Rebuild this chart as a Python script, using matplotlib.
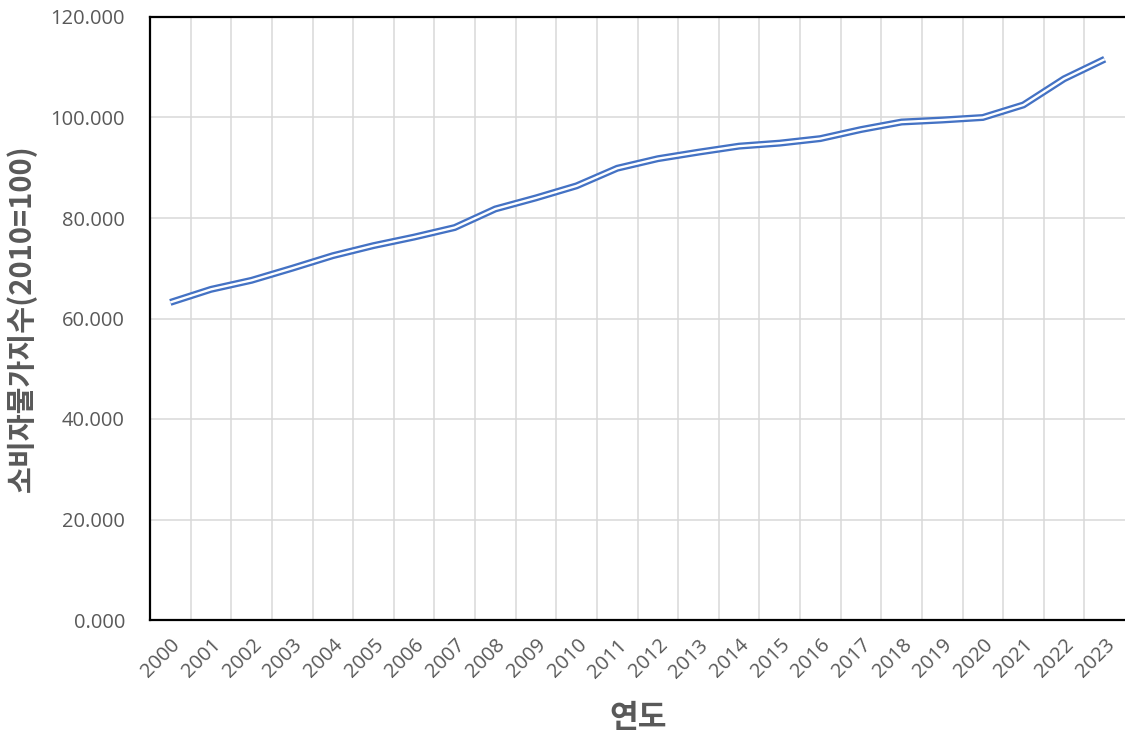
import numpy as np
import matplotlib.pyplot as plt

# 연도별 소비자물가지수
years = [str(y) for y in range(2000, 2024)]
cpi = [63.2, 65.8, 67.6, 70.0, 72.5, 74.5, 76.2, 78.1, 81.8, 84.0,
       86.4, 89.9, 91.8, 93.1, 94.3, 94.9, 95.8, 97.6, 99.1, 99.5,
       100.0, 102.5, 107.7, 111.6]
yticks = [0, 20, 40, 60, 80, 100, 120]

plt.rcParams['font.family'] = ['Open Sans', 'Noto Sans CJK KR', 'DejaVu Sans']
gray = '#595959'

fig = plt.figure(figsize=(11.25, 7.34), dpi=100)
ax = fig.add_axes([150/1125, 1-620/734, 975/1125, 603/734])

x = np.arange(len(years))
# 이중선 효과: 두꺼운 파란 선 위에 얇은 흰 선
ax.plot(x, cpi, color='#4472C4', lw=5.0, solid_capstyle='butt', solid_joinstyle='miter', zorder=3)
ax.plot(x, cpi, color='white', lw=1.7, solid_capstyle='butt', solid_joinstyle='miter', zorder=4)

ax.set_xlim(-0.5, len(years) - 0.5)
ax.set_ylim(0, 120)
ax.set_xticks(x)
ax.set_xticklabels(years, rotation=45, ha='right', rotation_mode='anchor',
                   fontsize=14.5, color=gray)
ax.set_yticks(yticks)
ax.set_yticklabels(['%d.000' % v for v in yticks], fontsize=14.5, color=gray)
ax.tick_params(axis='both', length=0)
ax.tick_params(axis='x', pad=11)
ax.tick_params(axis='y', pad=18)

# 세로 격자선은 항목 사이에
for gx in np.arange(0.5, len(years) - 1, 1.0):
    ax.axvline(gx, color='#d9d9d9', lw=1.1, zorder=1)
ax.grid(axis='y', color='#d9d9d9', lw=1.1, zorder=1)
ax.set_axisbelow(True)

for s in ['left', 'bottom', 'top']:
    ax.spines[s].set_color('black')
    ax.spines[s].set_linewidth(1.6)
ax.spines['right'].set_visible(False)

fig.text(638/1125, 1 - 718/734, '연도', fontsize=22.5, fontweight='bold', color=gray,
         family=['Noto Sans CJK KR', 'DejaVu Sans'], ha='center', va='center')
ax.set_ylabel('소비자물가지수(2010=100)', fontsize=21, fontweight='bold', color=gray,
              family=['Noto Sans CJK KR', 'DejaVu Sans'], labelpad=10)

fig.savefig('out.png', dpi=100)
